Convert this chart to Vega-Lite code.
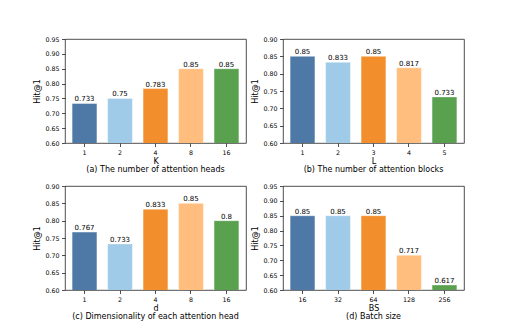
{
  "$schema": "https://vega.github.io/schema/vega-lite/v6.json",
  "padding": {"left": 33, "top": 35, "right": 5, "bottom": 5},
  "background": "white",
  "datasets": {
    "a": [{"k": "1", "v": 0.733}, {"k": "2", "v": 0.75}, {"k": "4", "v": 0.783}, {"k": "8", "v": 0.85}, {"k": "16", "v": 0.85}],
    "b": [{"k": "1", "v": 0.85}, {"k": "2", "v": 0.833}, {"k": "3", "v": 0.85}, {"k": "4", "v": 0.817}, {"k": "5", "v": 0.733}],
    "c": [{"k": "1", "v": 0.767}, {"k": "2", "v": 0.733}, {"k": "4", "v": 0.833}, {"k": "8", "v": 0.85}, {"k": "16", "v": 0.8}],
    "d": [{"k": "16", "v": 0.85}, {"k": "32", "v": 0.85}, {"k": "64", "v": 0.85}, {"k": "128", "v": 0.717}, {"k": "256", "v": 0.617}]
  },
  "config": {
    "font": "DejaVu Sans",
    "view": {"stroke": "#222", "strokeWidth": 0.8},
    "axis": {"domain": false, "grid": false, "tickColor": "#222", "tickSize": 3.5, "tickWidth": 0.8, "labelColor": "#000", "labelFontSize": 6.3, "labelFont": "DejaVu Sans", "titleFont": "DejaVu Sans", "titleFontWeight": "normal", "titleFontSize": 8, "titleColor": "#000", "labelPadding": 2.5},
    "axisX": {"labelAngle": 0, "titlePadding": 2},
    "axisY": {"titlePadding": 3},
    "title": {"font": "DejaVu Sans", "fontSize": 8, "fontWeight": "normal", "color": "#000", "orient": "bottom", "offset": 1},
    "bar": {"stroke": "white", "strokeOpacity": 0.5, "strokeWidth": 0.8},
    "scale": {"bandPaddingInner": 0.3, "bandPaddingOuter": 0.2}
  },
  "resolve": {"scale": {"x": "independent", "y": "independent", "color": "independent"}},
  "spacing": 7,
  "vconcat": [
    {
      "resolve": {"scale": {"x": "independent", "y": "independent", "color": "independent"}},
      "hconcat": [
        {
          "width": 181, "height": 104,
          "data": {"name": "a"},
          "title": "(a) The number of attention heads",
          "encoding": {
            "x": {"field": "k", "type": "ordinal", "sort": null, "title": "K"},
            "y": {"field": "v", "type": "quantitative", "title": "Hit@1", "scale": {"domain": [0.6, 0.95], "nice": false, "zero": false}, "axis": {"values": [0.6, 0.65, 0.7, 0.75, 0.8, 0.85, 0.9, 0.95], "format": ".2f"}}
          },
          "layer": [
            {"mark": {"type": "bar", "clip": true}, "encoding": {"color": {"field": "k", "type": "ordinal", "sort": null, "legend": null, "scale": {"range": ["#4e79a7", "#a0cbe8", "#f28e2b", "#ffbe7d", "#59a14f"]}}}},
            {"mark": {"type": "text", "baseline": "bottom", "dy": -1, "fontSize": 7, "color": "#000"}, "encoding": {"text": {"field": "v", "type": "nominal"}}}
          ]
        },
        {
          "width": 181, "height": 104,
          "data": {"name": "b"},
          "title": "(b) The number of attention blocks",
          "encoding": {
            "x": {"field": "k", "type": "ordinal", "sort": null, "title": "L"},
            "y": {"field": "v", "type": "quantitative", "title": "Hit@1", "scale": {"domain": [0.6, 0.9], "nice": false, "zero": false}, "axis": {"values": [0.6, 0.65, 0.7, 0.75, 0.8, 0.85, 0.9], "format": ".2f"}}
          },
          "layer": [
            {"mark": {"type": "bar", "clip": true}, "encoding": {"color": {"field": "k", "type": "ordinal", "sort": null, "legend": null, "scale": {"range": ["#4e79a7", "#a0cbe8", "#f28e2b", "#ffbe7d", "#59a14f"]}}}},
            {"mark": {"type": "text", "baseline": "bottom", "dy": -1, "fontSize": 7, "color": "#000"}, "encoding": {"text": {"field": "v", "type": "nominal"}}}
          ]
        }
      ],
      "spacing": 4
    },
    {
      "resolve": {"scale": {"x": "independent", "y": "independent", "color": "independent"}},
      "hconcat": [
        {
          "width": 181, "height": 104,
          "data": {"name": "c"},
          "title": "(c) Dimensionality of each attention head",
          "encoding": {
            "x": {"field": "k", "type": "ordinal", "sort": null, "title": "d"},
            "y": {"field": "v", "type": "quantitative", "title": "Hit@1", "scale": {"domain": [0.6, 0.9], "nice": false, "zero": false}, "axis": {"values": [0.6, 0.65, 0.7, 0.75, 0.8, 0.85, 0.9], "format": ".2f"}}
          },
          "layer": [
            {"mark": {"type": "bar", "clip": true}, "encoding": {"color": {"field": "k", "type": "ordinal", "sort": null, "legend": null, "scale": {"range": ["#4e79a7", "#a0cbe8", "#f28e2b", "#ffbe7d", "#59a14f"]}}}},
            {"mark": {"type": "text", "baseline": "bottom", "dy": -1, "fontSize": 7, "color": "#000"}, "encoding": {"text": {"field": "v", "type": "nominal"}}}
          ]
        },
        {
          "width": 181, "height": 104,
          "data": {"name": "d"},
          "title": "(d) Batch size",
          "encoding": {
            "x": {"field": "k", "type": "ordinal", "sort": null, "title": "BS"},
            "y": {"field": "v", "type": "quantitative", "title": "Hit@1", "scale": {"domain": [0.6, 0.95], "nice": false, "zero": false}, "axis": {"values": [0.6, 0.65, 0.7, 0.75, 0.8, 0.85, 0.9, 0.95], "format": ".2f"}}
          },
          "layer": [
            {"mark": {"type": "bar", "clip": true}, "encoding": {"color": {"field": "k", "type": "ordinal", "sort": null, "legend": null, "scale": {"range": ["#4e79a7", "#a0cbe8", "#f28e2b", "#ffbe7d", "#59a14f"]}}}},
            {"mark": {"type": "text", "baseline": "bottom", "dy": -1, "fontSize": 7, "color": "#000"}, "encoding": {"text": {"field": "v", "type": "nominal"}}}
          ]
        }
      ],
      "spacing": 4
    }
  ]
}
